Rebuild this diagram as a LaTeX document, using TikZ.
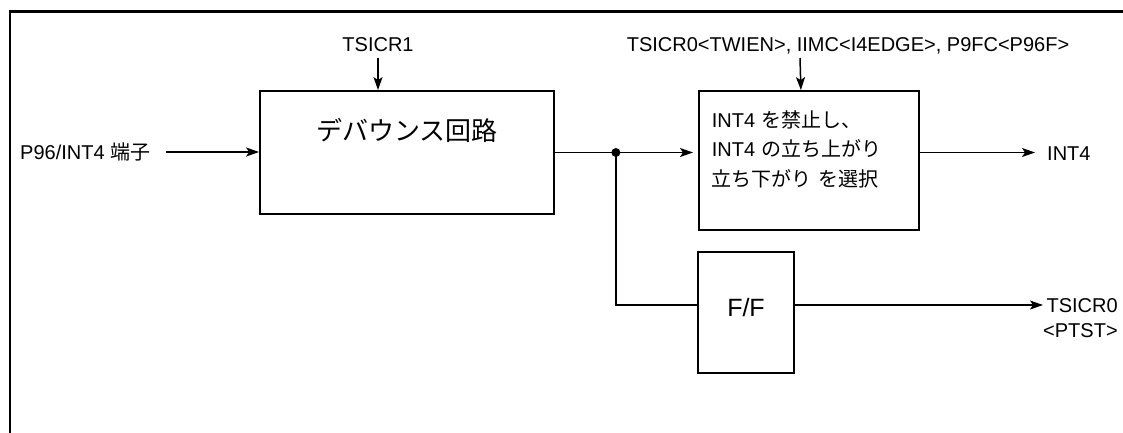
\documentclass[tikz,border=0pt]{standalone}
\usepackage{fontspec}
\setmainfont{Liberation Sans}
\newfontfamily\jpfont{Noto Sans CJK JP}
\usetikzlibrary{arrows.meta,positioning}

\begin{document}
\begin{tikzpicture}[x=1pt,y=-1pt,
    unit/.style={draw,line width=1.8pt,inner sep=0pt},
    lbl/.style={inner sep=0pt,font=\fontsize{20}{25}\selectfont},
    sig/.style={line width=1.5pt,-{Stealth[length=13pt,width=9pt,inset=3pt]}}]
  \useasboundingbox (0,0) rectangle (1123,432);
  \clip (0,0) rectangle (1123,432);
  \draw[line width=2.2pt] (10,11.5) rectangle (1140,450);
  % blocks
  \node[unit,anchor=base,minimum width=294pt,text height=49pt,text depth=74pt,
        font=\jpfont\fontsize{26}{30}\selectfont] (debounce) at (407,140) {デバウンス回路};
  \node[unit,anchor=base west,text width=194pt,align=left,inner xsep=13pt,
        text height=36pt,text depth=103pt,font=\fontsize{20}{29.5}\selectfont] (select) at (698,127)
        {INT4 {\jpfont を禁止し、}\\INT4 {\jpfont の立ち上がり}\\{\jpfont 立ち下がり を選択}};
  \node[unit,anchor=base,minimum width=96pt,text height=64pt,text depth=57pt,
        font=\fontsize{25}{30}\selectfont] (ff) at (746,316) {F/F};
  % labels
  \node[lbl,anchor=west] (pin) at (20,152) {P96/INT4 {\jpfont 端子}};
  \node[lbl,anchor=base] (tsicr1) at (378,51) {TSICR1};
  \node[lbl,anchor=base] (regs) at (848,51) {TSICR0<TWIEN>, IIMC<I4EDGE>, P9FC<P96F>};
  \node[lbl,anchor=base west] (int4) at (1047,160) {INT4};
  \node[lbl,anchor=base west,align=right] (ptst) at (1043,337) {TSICR0\\<PTST>};
  \coordinate (split) at ([xshift=61pt]debounce.east);
  % signals
  \draw[sig] ([xshift=16pt]pin.east) -- (pin.east -| debounce.west);
  \draw[sig] ([yshift=-7pt]tsicr1.base) -- (tsicr1.base |- debounce.north);
  \draw[sig] ([xshift=-48pt,yshift=-7pt]regs.base) -- ([xshift=-8pt]select.north);
  \draw[sig,shorten >=5pt] (debounce.east) -- (debounce.east -| select.west);
  \fill (split) circle (4.5);
  \draw[sig,shorten >=12pt] (select.east |- split) -- (split -| int4.west);
  \draw[line width=1.5pt] (split) |- ([yshift=7.5pt]ff.west);
  \draw[sig] ([yshift=7.5pt]ff.east) -- ([yshift=7.5pt]ff.east -| ptst.west);
\end{tikzpicture}
\end{document}
